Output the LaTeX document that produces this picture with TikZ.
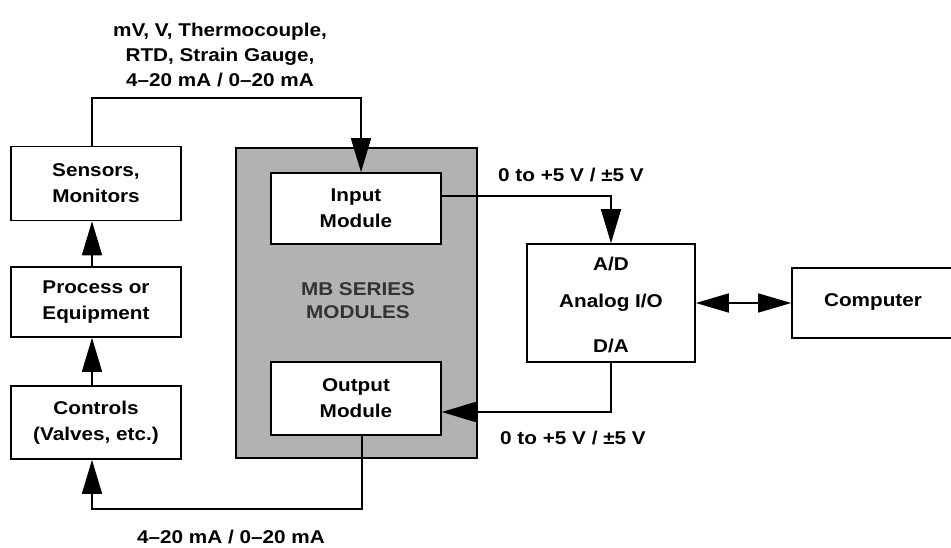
\documentclass[tikz,border=0pt]{standalone}
\usepackage{fontspec}
\setmainfont{Liberation Sans}[FakeStretch=1.12]
\usetikzlibrary{arrows.meta,calc}
\begin{document}
\begin{tikzpicture}[x=1pt,y=-1pt,
  every node/.style={font=\fontsize{18.5}{26}\selectfont\bfseries},
  box/.style={draw,line width=1.6pt,fill=white,align=center,inner sep=0pt},
  arr/.style={line width=1.5pt,-{Triangle[length=34pt,width=20pt]}},
  arr2/.style={line width=1.5pt,{Triangle[length=33pt,width=19pt]}-{Triangle[length=33pt,width=19pt]}},
  lbl/.style={align=center,inner sep=0pt}]
\useasboundingbox (0,0) rectangle (951,547);
% MB series block
\node[draw,line width=1.6pt,fill=black!30,minimum width=241pt,minimum height=310pt,inner sep=0pt] (mb) at (356.5,303) {};
\node[lbl,text=black!80,font=\fontsize{18.5}{23}\selectfont\bfseries] (mbt) at (358,301) {MB SERIES\\MODULES};
\node[box,minimum width=170pt,minimum height=71pt] (inp) at (356,208.5) {Input\\Module};
\node[box,minimum width=170pt,minimum height=73pt] (outp) at (356,398.5) {Output\\Module};
% left column
\node[box,minimum width=170pt,minimum height=74pt] (sens) at (96,183.5) {Sensors,\\Monitors};
\node[box,minimum width=170pt,minimum height=70pt] (proc) at (96,302) {Process or\\Equipment};
\node[box,minimum width=170pt,minimum height=73pt] (ctrl) at (96,422.5) {Controls\\(Valves, etc.)};
% analog I/O
\node[box,minimum width=168pt,minimum height=118pt] (adc) at (611,303) {};
\node[lbl] (ad) at (611,264) {A/D};
\node[lbl] (aio) at (611,303) {Analog I/O};
\node[lbl] (da) at (611,346) {D/A};
% computer
\node[box,minimum width=168pt,minimum height=70pt] (comp) at (876,303) {};
\node[lbl] (compt) at (873,302) {Computer};
% labels
\node[lbl,font=\fontsize{18.5}{25}\selectfont\bfseries] (toplbl) at (220,55) {mV, V, Thermocouple,\\RTD, Strain Gauge,\\4--20 mA / 0--20 mA};
\node[lbl] (v1) at (571,175) {0 to +5 V / ±5 V};
\node[lbl] (v2) at (573,438) {0 to +5 V / ±5 V};
\node[lbl] (botlbl) at (231,537) {4--20 mA / 0--20 mA};
% connectors
\coordinate (topy) at (0,98);
\coordinate (sensn) at ($(sens.north)+(-4,0)$);
\coordinate (sensS) at ($(sens.south)+(-4,0)$);
\coordinate (procn) at ($(proc.north)+(-4,0)$);
\coordinate (procs) at ($(proc.south)+(-4,0)$);
\coordinate (ctrln) at ($(ctrl.north)+(-4,0)$);
\coordinate (ctrls) at ($(ctrl.south)+(-4,0)$);
\coordinate (inpn) at ($(inp.north)+(5,0)$);
\coordinate (outs) at ($(outp.south)+(6,0)$);
\draw[arr] (sensn) |- (topy -| inpn) -- (inpn);
\draw[arr] (ctrln) -- (procs);
\draw[arr] (procn) -- (sensS);
\coordinate (inpo) at ($(inp.east)+(0,-12.5)$);
\draw[arr] (inpo) -| (adc.north);
\coordinate (outi) at ($(outp.east)+(0,13.5)$);
\draw[arr] (adc.south) |- (outi);
\draw[arr] (outs) -- ++(0,73) -| (ctrls);
\draw[arr2] (adc.east) -- (comp.west);
\end{tikzpicture}
\end{document}
